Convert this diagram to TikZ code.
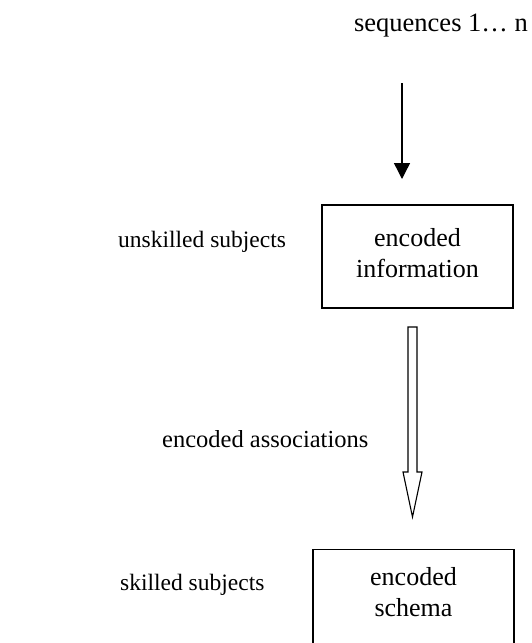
\documentclass[tikz,border=0pt]{standalone}
\usepackage{fontspec}
\setmainfont{Liberation Serif}
\usetikzlibrary{arrows.meta}
\tikzset{
  lbl/.style={inner sep=0pt, font=\fontsize{23.5}{28}\selectfont},
  toplbl/.style={inner sep=0pt, font=\fontsize{26.5}{30}\selectfont},
  stagebox/.style={draw, line width=1.2pt, inner sep=0pt},
  boxtext/.style={inner sep=0pt, align=center, font=\fontsize{26}{31}\selectfont},
  feed/.style={line width=1.4pt, -{Triangle[length=16pt,width=16pt]}},
  hollow/.style={draw, line width=1.1pt, fill=white}
}
\begin{document}
\begin{tikzpicture}[x=1pt,y=-1pt]
  \useasboundingbox (0,0) rectangle (532,643);
  \clip (0,0) rectangle (532,643);
  \fill[white] (0,0) rectangle (532,643);

  % input label and feed arrow
  \node[toplbl, anchor=base east] (seq) at (528,31) {sequences 1\ldots\ n};
  \coordinate (a1s) at (402,83);
  \coordinate (a1e) at (402,179);
  \draw[feed] (a1s) -- (a1e);

  % first stage
  \node[stagebox, minimum width=191pt, minimum height=103pt] (info)
       at (417.5,256.5) {};
  \node[boxtext] (infotext) at (417.5,253) {encoded\\information};
  \node[lbl, anchor=base west] (unsk) at (118,247) {unskilled subjects};

  % hollow transfer arrow
  \draw[hollow] (408,327) -- (417,327) -- (417,472) -- (422,472)
       -- (412.5,517) -- (403,472) -- (408,472) -- cycle;
  \node[lbl, anchor=base west, font=\fontsize{24.5}{28}\selectfont] (assoc)
       at (162,447) {encoded associations};

  % second stage (runs past the lower edge)
  \node[stagebox, anchor=north, minimum width=201pt, minimum height=130pt]
       (schema) at (413.5,549) {};
  \node[boxtext] (schematext) at (413.5,592) {encoded\\schema};
  \node[lbl, anchor=base west] (skill) at (120,590) {skilled subjects};
\end{tikzpicture}
\end{document}
